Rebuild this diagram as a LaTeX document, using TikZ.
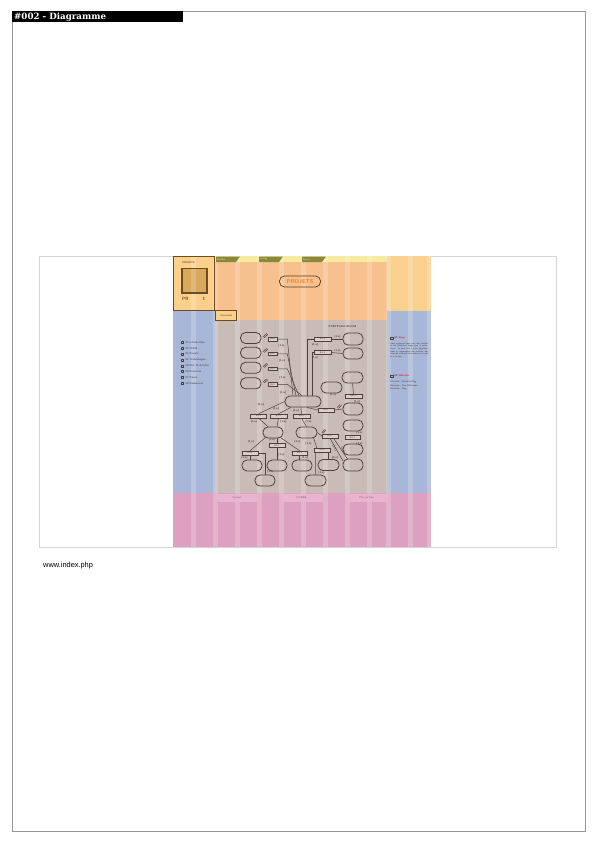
\documentclass[tikz,border=0pt]{standalone}
\usepackage{fontspec}
\newfontfamily\titlefont{DejaVu Serif}
\newfontfamily\urlfont{Liberation Sans}
\usetikzlibrary{calc}
\definecolor{orM}{RGB}{247,193,143}
\definecolor{orL}{RGB}{250,208,140}
\definecolor{orR}{RGB}{249,208,142}
\definecolor{yel}{RGB}{246,233,160}
\definecolor{oli}{RGB}{138,136,62}
\definecolor{blu}{RGB}{168,183,216}
\definecolor{tau}{RGB}{201,188,182}
\definecolor{pnk}{RGB}{221,160,192}
\definecolor{pnkL}{RGB}{232,180,208}
\definecolor{dk}{RGB}{80,64,58}
\definecolor{brn}{RGB}{110,75,35}
\definecolor{gold}{RGB}{216,168,92}
\definecolor{prj}{RGB}{240,128,30}
\definecolor{rd}{RGB}{205,60,50}
\definecolor{frm}{RGB}{150,150,150}
\definecolor{ifrm}{RGB}{212,212,212}
\definecolor{boxf}{RGB}{218,207,201}
\newcommand\menuf{\sffamily\fontsize{2.8}{3}\selectfont}
\tikzset{
  pill/.style={draw=dk, line width=0.8pt, rounded corners=5pt, minimum width=20.5pt, minimum height=11pt, inner sep=0pt},
  lbox/.style={draw=dk, line width=0.5pt, fill=boxf, minimum width=16pt, minimum height=4pt, inner sep=0pt, font=\sffamily\fontsize{2.2}{2.4}\selectfont, text=dk},
  mult/.style={font=\sffamily\bfseries\fontsize{2.8}{3}\selectfont, text=dk, inner sep=0pt},
  conn/.style={draw=dk, line width=0.5pt},
  slashm/.style={draw=dk, line width=0.55pt},
  tab/.style={fill=oli},
  tabtxt/.style={font=\sffamily\fontsize{2.2}{2.4}\selectfont, text=yel!80!white, inner sep=0pt, anchor=west},
  foot/.style={fill=pnkL, minimum width=42pt, minimum height=8pt, inner sep=0pt, font=\sffamily\fontsize{2.6}{2.8}\selectfont, text=dk!80},
  menuitem/.style={font=\menuf, text=dk!90!black, inner sep=0pt, anchor=west},
}
\begin{document}
\begin{tikzpicture}[x=1pt,y=-1pt]
\useasboundingbox (0,0) rectangle (597,843);
\fill[white] (0,0) rectangle (597,843);
% page frame and title
\draw[frm, line width=0.6pt] (12,11) rectangle (585,831);
\fill[black] (12,11) rectangle (183,22.5);
\node[anchor=base west, text=white, font=\titlefont\bfseries\fontsize{8.7}{9}\selectfont, inner sep=0pt] (title) at (14,19.8) {\#002 - Diagramme};
\draw[ifrm, line width=0.6pt] (39,256) rectangle (556,547);
\node[anchor=base west, font=\urlfont\fontsize{7.4}{8}\selectfont, inner sep=0pt] (url) at (43,567.3) {www.index.php};

% mockup backgrounds
\fill[orL] (173,256) rectangle (215,311);
\fill[orM] (215,256) rectangle (387,320);
\fill[orR] (387,256) rectangle (431,311);
\fill[yel] (215,256) rectangle (387,262);
\fill[blu] (173,311) rectangle (215,493);
\fill[blu] (387,311) rectangle (431,493);
\fill[tau] (215,320) rectangle (387,493);
\fill[pnk] (173,493) rectangle (431,547);
\fill[gold] (182,268.5) rectangle (207,293);
% grid stripes
\foreach \x in {191,213,235,257,279,301,323,345,367,386,408,427}
  \fill[white, opacity=0.2] (\x,256) rectangle ++(4.5,291);

% header
\draw[brn, line width=0.8pt] (173.4,256.4) rectangle (214.6,310.6);
\draw[brn, line width=1.4pt] (182,268.5) rectangle (207,293);
\node[font=\sffamily\bfseries\fontsize{2.6}{3}\selectfont, text=brn, inner sep=0pt] (logot) at (188.5,263) {PROJETS};
\node[font=\sffamily\bfseries\fontsize{4.6}{5}\selectfont, text=brn, inner sep=0pt, anchor=base west] (pr) at (182,300) {PR};
\node[font=\sffamily\bfseries\fontsize{4.6}{5}\selectfont, text=brn, inner sep=0pt, anchor=base west] (prn) at (202.5,300) {1};

\fill[tab] (216,256.5) -- (240,256.5) -- (236,262) -- (216,262) -- cycle;
\fill[tab] (259,256.5) -- (283,256.5) -- (279,262) -- (259,262) -- cycle;
\fill[tab] (302,256.5) -- (326,256.5) -- (322,262) -- (302,262) -- cycle;
\node[tabtxt] (tab1) at (217,259.3) {Site Bib};
\node[tabtxt] (tab2) at (260,259.3) {Le blog};
\node[tabtxt] (tab3) at (303,259.3) {Forum};

\node[draw=brn!80!black, line width=0.7pt, rounded corners=5pt, minimum width=41pt, minimum height=11pt, inner sep=0pt, font=\sffamily\bfseries\fontsize{5.6}{6}\selectfont, text=prj] (projets) at (300,281.5) {PROJETS};

\node[draw=brn, line width=0.8pt, fill=orL, minimum width=21pt, minimum height=10pt, inner sep=0pt, font=\sffamily\fontsize{2.6}{3}\selectfont, text=dk] (diam) at (226.3,315.5) {Diamonds};

% left menu
\foreach \i/\t in {0/01 Introduction,1/02 MAIN,2/03 Projets,3/04 Technologies,4/05 Bits 'N Articles,5/06 Exercices,6/07 Forum,7/08 Ressources}{
  \draw[dk, line width=0.35pt] (180.8,{341.6+5.8*\i}) rectangle ++(2,2);
  \node[menuitem] (menu\i) at (185.5,{342.7+5.8*\i}) {\t};
}

% right column
\draw[dk, line width=0.35pt] (390.3,336.8) rectangle ++(2.4,2.4);
\node[font=\sffamily\bfseries\fontsize{2.6}{3}\selectfont, text=dk, inner sep=0pt, anchor=west] (rh1) at (394.5,338) {01 \textcolor{rd}{Blogs}};
\node[font=\sffamily\fontsize{2.3}{2.67}\selectfont, text=dk, inner sep=0pt, text width=38pt, align=justify, anchor=north west] (rp1) at (390,342.3) {Voici quelques liens vers mes projets et les différents blogs que je maintiens. Ils sont mis à jour régulièrement et regroupent des articles, des tutoriels ainsi que des notes sur le web et le design.};
\draw[dk, line width=0.35pt] (390.3,374.8) rectangle ++(2.4,2.4);
\node[font=\sffamily\bfseries\fontsize{2.6}{3}\selectfont, text=dk, inner sep=0pt, anchor=west] (rh2) at (394.5,376) {02 \textcolor{rd}{Webcible}};
\node[font=\sffamily\fontsize{2.3}{3.4}\selectfont, text=dk, inner sep=0pt, align=left, anchor=north west] (rp2) at (390,380.8) {Webcible : Portfolio Blog\\Webcible : Site Multimédia\\Webcible : Blog};

% footer
\node[foot] (f1) at (237,497.5) {Contact};
\node[foot] (f2) at (301.5,497.5) {[CCBPs]};
\node[foot] (f3) at (366.5,497.5) {Plan du Site};

% diagram
\node[font=\sffamily\bfseries\fontsize{2.8}{3}\selectfont, text=dk, inner sep=0pt] (dtitle) at (342.5,326.5) {PORTFOLIO BLOGS};

\node[pill, minimum width=36pt] (C) at (303,401.5) {};
\foreach \i/\y in {1/338,2/352.8,3/367.8,4/383.3}{
  \node[pill, minimum width=20.5pt] (L\i) at (250.8,\y) {};
  \node[lbox, minimum width=8.5pt, minimum height=3.8pt] (B\i) at (272.8,\y+1) {BA-1};
  \draw[slashm] ($(L\i.east)+(1.6,-1.2)$) -- ++(3.6,-3.2);
  \draw[slashm] ($(L\i.east)+(2.8,-0.4)$) -- ++(3.6,-3.2);
}
\draw[conn] (B1.east) -- ++(10,0) -- ($(C.north)+(-10,0)$);
\draw[conn] (B2.east) -- ++(10,0) -- ($(C.north)+(-7,0)$);
\draw[conn] (B3.east) -- ++(10,0) -- ($(C.north)+(-4,0)$);
\draw[conn] (B4.east) -- ++(10,0) -- ($(C.north)+(-1,0)$);
\node[mult] (mb1) at (281.5,346) {(1,n)};
\node[mult] (mb2) at (282,361) {(1,n)};
\node[mult] (mb3) at (282.5,377.5) {(1,n)};
\node[mult] (mb4) at (283,392.5) {(1,n)};

% right upper branch
\node[lbox, minimum width=17pt] (R1) at (322.5,339) {BA-1};
\node[pill, minimum width=20pt, minimum height=12pt] (P1) at (353,339) {};
\node[lbox, minimum width=17pt] (R2) at (322.5,352.5) {BA-1};
\node[pill, minimum width=20pt] (P2) at (353,353.5) {};
\draw[conn] ($(C.north)+(4,0)$) |- (R1.west);
\draw[conn] ($(C.north)+(9,0)$) |- (R2.west);
\draw[conn] (R1.east) -- (P1.west);
\draw[conn] (R2.east) -- (P2.west);
\node[mult] (mr1) at (337.5,336.8) {(1,n)};
\node[mult] (mr1b) at (315,344.5) {(1,n)};
\node[mult] (mr2) at (337.5,350.3) {(1,n)};
\node[mult] (mr2b) at (315,358) {(1,n)};

\node[pill, minimum width=21pt] (P3) at (352.5,377.5) {};
\node[lbox, minimum width=17pt] (R3) at (353.5,396) {BBL-5};
\draw[conn] (P3.south) -- (R3.north);
\node[mult] (mr3) at (357,402) {(1,n)};
\node[pill, minimum width=21pt] (P4) at (331.5,387.5) {};
\node[mult] (mp4) at (333,395) {(1,n)};

\node[lbox, minimum width=16pt] (R4) at (326,410) {BA-1};
\node[pill, minimum width=20pt, minimum height=12pt] (P5) at (353,409) {};
\draw[conn] ($(C.south)+(4,0)$) -- (R4.west);
\draw[conn] (R4.east) -- (P5.west);
\draw[slashm] ($(P5.west)+(-5.5,-1.5)$) -- ++(3,-3);
\draw[slashm] ($(P5.west)+(-4.2,-0.7)$) -- ++(3,-3);

\node[pill, minimum width=20pt] (P6) at (353,425.5) {};
\node[lbox, minimum width=15pt] (R5) at (352.5,437.5) {BA-1};
\node[mult] (mr5) at (359.5,433) {(1,n)};
\node[pill, minimum width=20pt] (P7) at (353,449.5) {};
\node[mult] (mp7) at (359.5,443.5) {(1,n)};
\node[pill, minimum width=20pt, minimum height=12pt] (P8) at (353,465) {};

% left subtree
\node[lbox, minimum width=16pt] (S1) at (258.5,416) {BA-1};
\node[lbox, minimum width=17pt] (S2) at (278.5,416) {BA-1};
\node[lbox, minimum width=17pt] (S3) at (301.5,416) {BA-1};
\draw[conn] (C.west) -- (S1.north);
\draw[conn] ($(C.south)+(-12,0)$) -- (S2.north);
\draw[conn] ($(C.south)+(-2,0)$) -- (S3.north);
\node[mult] (ms1) at (261,405) {(1,n)};
\node[mult] (ms2) at (276,409) {(1,n)};
\node[mult] (ms3) at (296,410.5) {(1,n)};

\node[pill, minimum width=20pt] (M1) at (273,432.5) {};
\node[pill, minimum width=21pt] (M2) at (306.5,432.5) {};
\draw[conn] (S1.south) -- ($(M1.north)+(-5,0)$);
\draw[conn] (S2.south) -- ($(M1.north)+(4,0)$);
\draw[conn] (S3.south) -- (M2.north);
\node[mult] (mm1) at (254,422) {(1,n)};
\node[mult] (mm2) at (283.5,421.5) {(1,n)};
\node[mult] (mm3) at (308.5,422) {(1,n)};

\node[lbox, minimum width=16pt] (T1) at (250,453) {BA-1};
\node[lbox, minimum width=16pt] (T2) at (277,445.5) {BA-1};
\node[lbox, minimum width=15pt] (T3) at (299.5,453) {BA-1};
\draw[conn] ($(M1.south west)+(3,-1)$) -- (T1.north);
\draw[conn] ($(M1.south)+(4,0)$) -- (T2.north);
\draw[conn] ($(M1.south east)+(-3,-1)$) -- (T3.north);
\node[mult] (mt1) at (251,442) {(1,n)};
\node[mult] (mt2) at (272,439.5) {(1,n)};
\node[mult] (mt3) at (297.5,441.5) {(1,n)};

\node[pill, minimum width=20pt] (Q1) at (252,465.5) {};
\node[pill, minimum width=20pt] (Q2) at (277,465.5) {};
\node[pill, minimum width=20pt] (Q3) at (302,465.5) {};
\node[pill, minimum width=20pt] (Q4) at (265,480.5) {};
\draw[conn] (T1.south) -- (T1.south |- Q1.north);
\draw[conn] (T2.south) -- (Q2.north);
\draw[conn] (T3.south) -- (T3.south |- Q3.north);
\draw[conn] (T1.east) -| (Q4.north);
\node[mult] (mq1) at (244.5,458) {(1,n)};
\node[mult] (mq2) at (281.5,455) {(1,n)};
\node[mult] (mq3) at (305,458) {(1,n)};
\node[mult] (mq4) at (270.5,472) {(1,n)};

\node[lbox, minimum width=16pt] (R6) at (330,436) {BA-1};
\node[lbox, minimum width=16pt] (R7) at (322,450) {BA-1};
\draw[conn] (M2.east) -- (R6.west);
\draw[slashm] ($(R6.north west)+(0.2,-1)$) -- ++(2.6,-3.4);
\draw[slashm] ($(R6.north west)+(1.6,-0.6)$) -- ++(2.6,-3.4);
\draw[conn] ($(M2.south east)+(-4,-1)$) -- ($(R7.north west)+(3,0)$);
\node[mult] (mm4) at (308.5,444) {(1,n)};

\node[pill, minimum width=21pt] (Q5) at (315.5,480.5) {};
\node[pill, minimum width=21pt] (Q6) at (328.5,465) {};
\draw[conn] ($(R7.south west)+(1.5,0)$) -- (Q5.north);
\draw[conn] (R7.south -| Q6.north) -- (Q6.north);
\node[mult] (mq5) at (321.5,472.5) {(1,n)};
\node[mult] (mq6) at (335,457.5) {(1,n)};

\draw[conn] ($(R6.south)+(0,0)$) -- ($(P8.north west)+(0.5,2.5)$);
\draw[conn] ($(R6.south)+(3.5,0)$) -- ($(P8.north west)+(5,0.5)$);
\node[mult, rotate=-60] (md1) at (334.5,448) {(1,n)};
\node[mult, rotate=-60] (md2) at (343,449.5) {(1,n)};
\end{tikzpicture}
\end{document}
